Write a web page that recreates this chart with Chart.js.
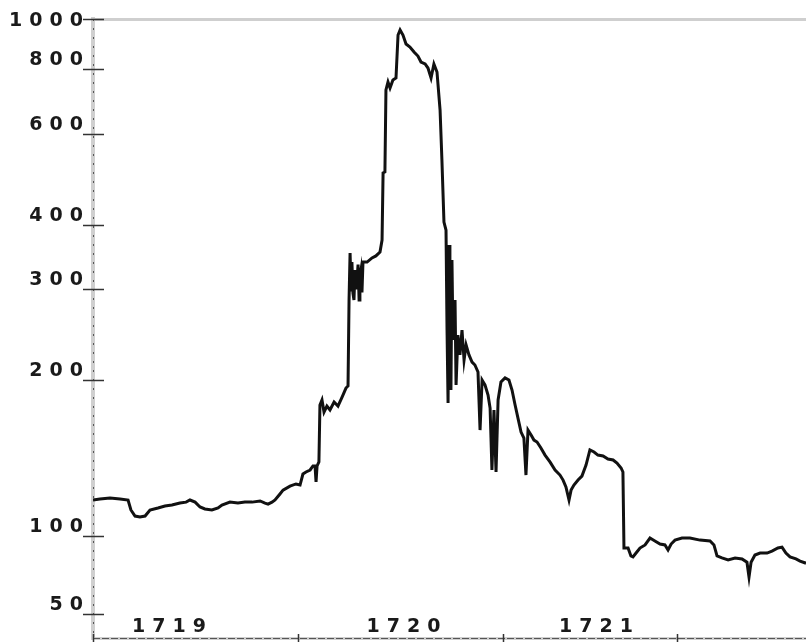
<!DOCTYPE html>
<html>
<head>
<meta charset="utf-8">
<script src="https://cdn.jsdelivr.net/npm/chart.js@4.4.1/dist/chart.umd.min.js"></script>
<style>
  html, body { margin: 0; padding: 0; background: #fff; }
  #wrap { position: relative; width: 806px; height: 642px; }
</style>
</head>
<body>
<div id="wrap"><canvas id="bubble"></canvas></div>
<script>
// trade dates as decimal years
const tradeDates = [
  1719.000, 1719.034, 1719.083, 1719.132, 1719.171, 1719.185, 1719.205, 1719.229, 1719.254, 1719.278,
  1719.317, 1719.351, 1719.385, 1719.424, 1719.454, 1719.473, 1719.498, 1719.522, 1719.546, 1719.580,
  1719.610, 1719.629, 1719.668, 1719.707, 1719.741, 1719.776, 1719.815, 1719.839, 1719.854, 1719.873,
  1719.888, 1719.912, 1719.927, 1719.961, 1719.990, 1720.010, 1720.024, 1720.039, 1720.059, 1720.073,
  1720.083, 1720.088, 1720.093, 1720.102, 1720.107, 1720.117, 1720.127, 1720.141, 1720.156, 1720.176,
  1720.195, 1720.215, 1720.234, 1720.244, 1720.249, 1720.254, 1720.259, 1720.263, 1720.268, 1720.273,
  1720.278, 1720.283, 1720.288, 1720.293, 1720.298, 1720.302, 1720.307, 1720.312, 1720.317, 1720.337,
  1720.361, 1720.380, 1720.400, 1720.410, 1720.415,
  1720.424, 1720.429, 1720.439, 1720.449, 1720.463, 1720.478, 1720.488, 1720.498, 1720.512, 1720.527,
  1720.546, 1720.566, 1720.585, 1720.600, 1720.620, 1720.634, 1720.649, 1720.663, 1720.678, 1720.693,
  1720.702, 1720.712, 1720.722, 1720.727, 1720.732, 1720.737, 1720.741, 1720.746, 1720.751, 1720.756,
  1720.766, 1720.771, 1720.780, 1720.790, 1720.800, 1720.810, 1720.820, 1720.834, 1720.849, 1720.863,
  1720.878, 1720.888, 1720.898, 1720.912, 1720.927, 1720.937, 1720.946, 1720.956, 1720.966, 1720.976,
  1720.990, 1721.010, 1721.029, 1721.044, 1721.059, 1721.073, 1721.088, 1721.102, 1721.112, 1721.122,
  1721.137, 1721.151, 1721.166, 1721.185, 1721.205, 1721.229, 1721.254, 1721.278, 1721.293, 1721.307,
  1721.322, 1721.332, 1721.346, 1721.366, 1721.385, 1721.405, 1721.424, 1721.444, 1721.463, 1721.488,
  1721.512, 1721.537, 1721.556, 1721.576, 1721.585, 1721.590, 1721.610, 1721.624, 1721.634, 1721.649,
  1721.668, 1721.693, 1721.717, 1721.741, 1721.766, 1721.790, 1721.805, 1721.820, 1721.839, 1721.873,
  1721.912, 1721.961, 1722.010, 1722.029, 1722.044, 1722.068, 1722.098, 1722.132, 1722.166, 1722.190,
  1722.200, 1722.210, 1722.229, 1722.254, 1722.288, 1722.312, 1722.341, 1722.361, 1722.380, 1722.400,
  1722.429, 1722.449, 1722.478
];

// stock price (log axis)
const stockPrice = [
  117.4, 117.9, 118.4, 117.9, 117.4, 112.3, 109.3, 108.8, 109.3, 112.3,
  113.3, 114.3, 114.8, 115.8, 116.3, 117.4, 116.3, 113.8, 112.8, 112.3,
  113.3, 114.8, 116.3, 115.8, 116.3, 116.3, 116.9, 115.8, 115.3, 116.3,
  117.4, 120.6, 122.7, 124.9, 126.1, 125.5, 131.8, 133.0, 134.2, 136.6,
  136.6, 127.2, 136.6, 139.1, 179.2, 183.3, 173.7, 178.4, 175.3, 181.6,
  178.4, 185.7, 193.3, 195.1, 286.1, 352.7, 299.1, 338.8, 295.0, 286.1,
  327.0, 300.0, 312.7, 335.0, 286.1, 318.0, 327.0, 296.0, 338.8, 338.8,
  345.0, 348.1, 354.2, 373.7, 503.7,
  506.0, 729.0, 755.4, 735.5, 762.1, 769.0, 931.2, 952.2, 931.2, 894.6,
  882.7, 863.3, 848.0, 825.7, 818.4, 803.9, 769.0, 818.4, 789.8, 666.7,
  533.6, 404.8, 390.6, 250.3, 180.8, 365.5, 286.1, 191.6, 341.9, 239.4,
  286.1, 196.0, 244.7, 224.0, 250.3, 219.0, 234.2, 224.0, 217.0, 214.2,
  207.6, 160.3, 200.3, 196.0, 187.4, 176.8, 134.2, 175.3, 133.0, 183.3,
  198.6, 202.2, 200.3, 191.6, 179.2, 169.1, 158.9, 154.7, 131.2, 160.3,
  156.8, 153.3, 152.0, 148.0, 143.4, 139.1, 134.2, 131.2, 128.3, 124.4,
  117.4, 122.7, 125.5, 128.3, 130.6, 137.2, 146.7, 145.4, 143.4, 142.8,
  140.9, 140.3, 138.4, 135.4, 133.0, 94.8, 94.8, 91.5, 91.1, 92.7,
  94.8, 96.1, 99.1, 97.8, 96.5, 96.1, 94.0, 96.5, 98.2, 99.1,
  99.1, 98.2, 97.8, 96.1, 91.5, 90.7, 89.9, 90.7, 90.3, 89.0,
  83.3, 89.0, 91.9, 92.7, 92.7, 93.5, 94.8, 95.2, 92.7, 91.1,
  90.3, 89.4, 88.6
];

// y ticks; the reference squeezes its "50" mark just under 100 (axis break)
const yTickValues = [70.7, 100, 200, 300, 400, 600, 800, 1000];
const yTickLabels = ['50', '100', '200', '300', '400', '600', '800', '1000'];

// year labels sit inside the plot, roughly mid-year
const xLabelYears = ['1719', '1720', '1721'];
const xLabelDates = [1719.388, 1720.532, 1721.471];
// small tick marks along the bottom axis
const xMarkDates = [1719, 1720, 1721, 1721.85];

const textFont = { family: 'DejaVu Sans', size: 19, weight: 'bold' };
const LETTER_GAP = '7px';

//canvas letter spacing so the digits come out as wide as the old bitmap font
const spacedText = {
  id: 'spacedText',
  beforeLayout(chart) { chart.ctx.letterSpacing = LETTER_GAP; },
  beforeDraw(chart) { chart.ctx.letterSpacing = LETTER_GAP; }
};

//dashes on the grey axis lines plus the little cross ticks
const axisMarks = {
  id: 'axisMarks',
  afterDraw(chart) {
    const ctx = chart.ctx;
    const a = chart.chartArea;
    const x = chart.scales.x, y = chart.scales.y;
    ctx.save();
    ctx.strokeStyle = '#555';
    ctx.lineWidth = 1;
    ctx.setLineDash([2, 7]);
    ctx.beginPath();
    ctx.moveTo(a.left + 0.5, a.top);
    ctx.lineTo(a.left + 0.5, a.bottom);
    ctx.stroke();
    ctx.setLineDash([7, 2]);
    ctx.beginPath();
    ctx.moveTo(a.left, a.bottom + 0.5);
    ctx.lineTo(a.right, a.bottom + 0.5);
    ctx.stroke();
    ctx.setLineDash([]);
    ctx.strokeStyle = '#333';
    ctx.lineWidth = 1.5;
    ctx.beginPath();
    y.ticks.forEach(t => {
      const py = Math.round(y.getPixelForValue(t.value)) + 0.5;
      ctx.moveTo(a.left - 10, py);
      ctx.lineTo(a.left + 11, py);
    });
    xMarkDates.forEach(v => {
      const px = Math.round(x.getPixelForValue(v)) + 0.5;
      ctx.moveTo(px, a.bottom - 4);
      ctx.lineTo(px, a.bottom + 4);
    });
    ctx.stroke();
    ctx.restore();
  }
};

const points = tradeDates.map((d, i) => ({ x: d, y: stockPrice[i] }));

new Chart(document.getElementById('bubble'), {
  type: 'line',
  data: {
    datasets: [{
      data: points,
      borderColor: '#111',
      borderWidth: 3,
      pointRadius: 0,
      tension: 0,
      fill: false
    }]
  },
  options: {
    responsive: true,
    maintainAspectRatio: false,
    animation: false,
    layout: { padding: { top: 19, right: 0, bottom: 0, left: 0 } },
    plugins: { legend: { display: false }, tooltip: { enabled: false } },
    scales: {
      x: {
        type: 'linear',
        min: 1719,
        max: 1722.478,
        afterBuildTicks: scale => { scale.ticks = xLabelDates.map(v => ({ value: v })); },
        afterFit: scale => {
          scale.height = 4;
          scale.paddingLeft = 0;
          scale.paddingRight = 0;
        },
        grid: { drawOnChartArea: false, drawTicks: false },
        border: { display: true, color: '#cfcfcf', width: 3 },
        ticks: {
          autoSkip: false,
          maxRotation: 0,
          mirror: true,   // keeps the labels from being clipped to the thin axis box
          padding: 0,
          color: '#1a1a1a',
          font: textFont,
          callback: (v, i) => xLabelYears[i]
        }
      },
      y: {
        type: 'logarithmic',
        min: 63.5,
        max: 1000,
        afterBuildTicks: scale => { scale.ticks = yTickValues.map(v => ({ value: v })); },
        afterFit: scale => {
          scale.width = 93;
          scale.paddingTop = 0;
          scale.paddingBottom = 0;
        },
        grid: {
          drawTicks: false,
          color: c => (c.tick && c.tick.value === 1000 ? '#cfcfcf' : 'rgba(0,0,0,0)'),
          lineWidth: 3
        },
        border: { display: true, color: '#cfcfcf', width: 4 },
        ticks: {
          autoSkip: false,
          padding: 3,
          labelOffset: -9,
          color: '#1a1a1a',
          font: textFont,
          // top label sits level with its mark, so push it down one half line
          callback: (v, i) => (yTickValues[i] === 1000 ? ['', yTickLabels[i]] : yTickLabels[i])
        }
      }
    }
  },
  plugins: [spacedText, axisMarks]
});
</script>
</body>
</html>
